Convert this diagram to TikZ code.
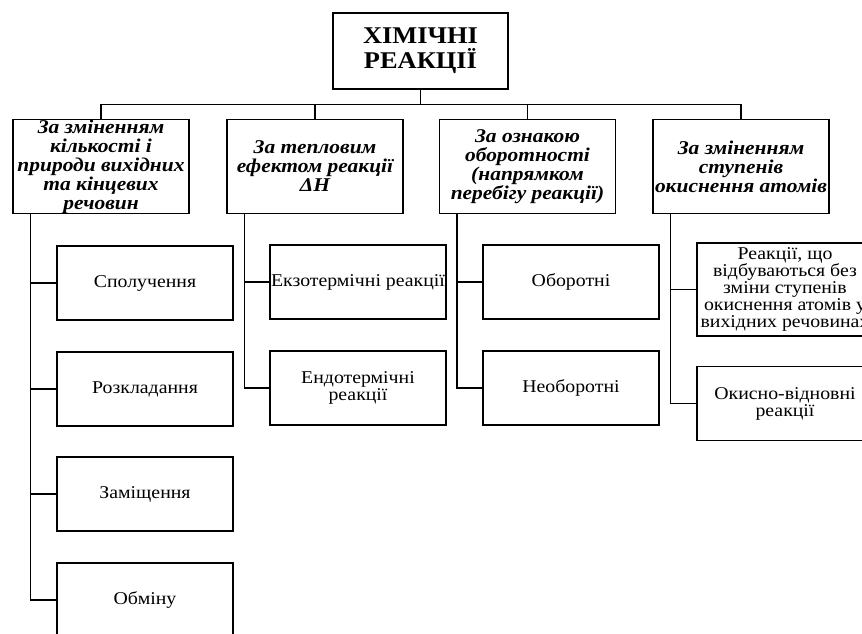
\documentclass[tikz,border=0pt]{standalone}
\usepackage{fontspec}
\setmainfont{Liberation Serif}[FakeStretch=1.1]
\usetikzlibrary{calc}

\begin{document}
\begin{tikzpicture}[x=1pt, y=-1pt, line width=1.2pt,
    headbox/.style = {draw, minimum width=175pt, minimum height=76pt, inner sep=0pt, align=center,
        font=\fontsize{24}{25}\selectfont\bfseries},
    kindbox/.style = {draw, minimum width=176pt, minimum height=94pt, inner xsep=0pt, inner ysep=-3pt, align=center,
        font=\fontsize{19.5}{19}\selectfont\bfseries\itshape},
    leafbox/.style = {draw, minimum width=176pt, minimum height=74pt, inner sep=0pt, align=center,
        font=\fontsize{18}{17}\selectfont}]
    \useasboundingbox (0,0) rectangle (862,633);
    \clip (0,0) rectangle (862,633);

    % top
    \node [headbox] (head) at (420.5, 51) {ХІМІЧНІ\\РЕАКЦІЇ};

    % four ways to classify
    \node [kindbox] (k1) at (101, 166.5) {За зміненням\\кількості і\\природи вихідних\\та кінцевих\\речовин};
    \node [kindbox] (k2) at (315, 166.5) {За тепловим\\ефектом реакції\\ΔН};
    \node [kindbox] (k3) at (527.5, 166.5) {За ознакою\\оборотності\\(напрямком\\перебігу реакції)};
    \node [kindbox] (k4) at (741, 166.5) {За зміненням\\ступенів\\окиснення атомів};

    \coordinate (bus) at ($(head.south)+(0,15)$);
    \draw (head.south) -- (bus);
    \draw (k1.north) |- (bus) -| (k4.north);
    \draw (k2.north) -- (k2.north |- bus);
    \draw (k3.north) -- (k3.north |- bus);

    % first column
    \node [leafbox] (s1) at (145, 283) {Сполучення};
    \node [leafbox] (s2) at (145, 389) {Розкладання};
    \node [leafbox] (s3) at (145, 494) {Заміщення};
    \node [leafbox] (s4) at (145, 600) {Обміну};
    \coordinate (t1) at ([xshift=18pt]k1.south west);
    \draw (t1) |- (s1.west);
    \draw (t1) |- (s2.west);
    \draw (t1) |- (s3.west);
    \draw (t1) |- (s4.west);

    % second column
    \node [leafbox] (e1) at (358, 282) {Екзотермічні реакції};
    \node [leafbox] (e2) at (358, 388) {Ендотермічні\\реакції};
    \coordinate (t2) at ([xshift=18pt]k2.south west);
    \draw (t2) |- (e1.west);
    \draw (t2) |- (e2.west);

    % third column
    \node [leafbox] (o1) at (571, 282) {Оборотні};
    \node [leafbox] (o2) at (571, 388) {Необоротні};
    \coordinate (t3) at ([xshift=18pt]k3.south west);
    \draw (t3) |- (o1.west);
    \draw (t3) |- (o2.west);

    % fourth column
    \node [leafbox, minimum height=93pt] (r1) at (785, 289.5) {Реакції, що\\відбуваються без\\зміни ступенів\\окиснення атомів у\\вихідних речовинах};
    \node [leafbox] (r2) at (785, 403.5) {Окисно-відновні\\реакції};
    \coordinate (t4) at ([xshift=18pt]k4.south west);
    \draw (t4) |- (r1.west);
    \draw (t4) |- (r2.west);

\end{tikzpicture}
\end{document}
